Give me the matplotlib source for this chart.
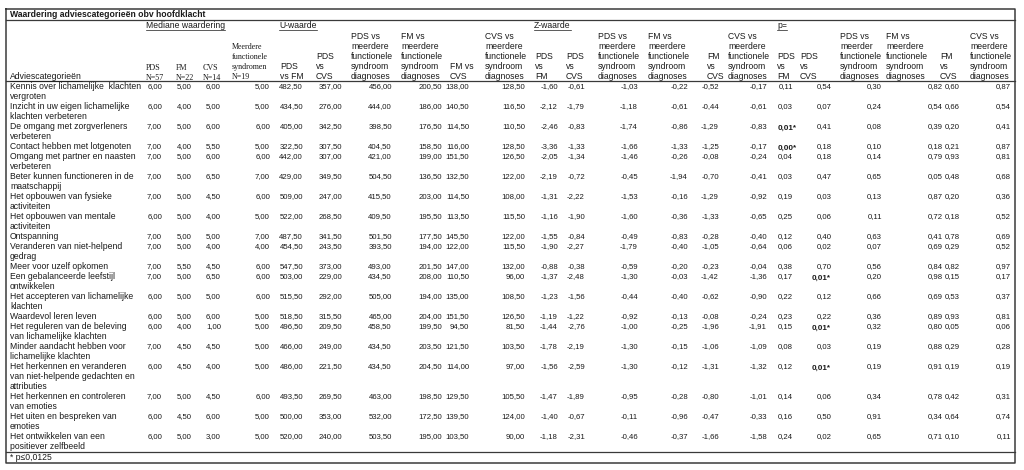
import matplotlib
matplotlib.use('Agg')
import matplotlib.pyplot as plt

# ---------------------------------------------
# DATA
# ---------------------------------------------
labels = [
    'Kennis over lichamelijke  klachten\nvergroten',
    'Inzicht in uw eigen lichamelijke\nklachten verbeteren',
    'De omgang met zorgverleners\nverbeteren',
    'Contact hebben met lotgenoten',
    'Omgang met partner en naasten\nverbeteren',
    'Beter kunnen functioneren in de\nmaatschappij',
    'Het opbouwen van fysieke\nactiviteiten',
    'Het opbouwen van mentale\nactiviteiten',
    'Ontspanning',
    'Veranderen van niet-helpend\ngedrag',
    'Meer voor uzelf opkomen',
    'Een gebalanceerde leefstijl\nontwikkelen',
    'Het accepteren van lichamelijke\nklachten',
    'Waardevol leren leven',
    'Het reguleren van de beleving\nvan lichamelijke klachten',
    'Minder aandacht hebben voor\nlichamelijke klachten',
    'Het herkennen en veranderen\nvan niet-helpende gedachten en\nattributies',
    'Het herkennen en controleren\nvan emoties',
    'Het uiten en bespreken van\nemoties',
    'Het ontwikkelen van een\npositiever zelfbeeld',
]

# mediane waardering
med_pds = [6, 6, 7, 7, 7, 7, 7, 6, 7, 7, 7, 7, 6, 6, 6, 7, 6, 7, 6, 6]
med_fm = [5, 4, 5, 4, 5, 5, 5, 5, 5, 5, 5.5, 5, 5, 5, 4, 4.5, 4.5, 5, 4.5, 5]
med_cvs = [6, 5, 6, 5.5, 6, 6.5, 4.5, 4, 5, 4, 4.5, 6.5, 5, 6, 1, 4.5, 4, 4.5, 6, 3]
med_mfs = [5, 5, 6, 5, 6, 7, 6, 5, 7, 4, 6, 6, 6, 5, 5, 5, 5, 6, 5, 5]

# U-waarde
u_pds_fm = [482.5, 434.5, 405, 322.5, 442, 429, 509, 522, 487.5, 454.5,
            547.5, 503, 515.5, 518.5, 496.5, 466, 486, 493.5, 500, 520]
u_pds_cvs = [357, 276, 342.5, 307.5, 307, 349.5, 247, 268.5, 341.5, 243.5,
             373, 229, 292, 315.5, 209.5, 249, 221.5, 269.5, 353, 240]
u_pds_mfs = [456, 444, 398.5, 404.5, 421, 504.5, 415.5, 409.5, 501.5, 393.5,
             493, 434.5, 505, 465, 458.5, 434.5, 434.5, 463, 532, 503.5]
u_fm_mfs = [200.5, 186, 176.5, 158.5, 199, 136.5, 203, 195.5, 177.5, 194,
            201.5, 208, 194, 204, 199.5, 203.5, 204.5, 198.5, 172.5, 195]
u_fm_cvs = [138, 140.5, 114.5, 116, 151.5, 132.5, 114.5, 113.5, 145.5, 122,
            147, 110.5, 135, 151.5, 94.5, 121.5, 114, 129.5, 139.5, 103.5]
u_cvs_mfs = [128.5, 116.5, 110.5, 128.5, 126.5, 122, 108, 115.5, 122, 115.5,
             132, 96, 108.5, 126.5, 81.5, 103.5, 97, 105.5, 124, 90]

# Z-waarde
z_pds_fm = [-1.60, -2.12, -2.46, -3.36, -2.05, -2.19, -1.31, -1.16, -1.55, -1.90,
            -0.88, -1.37, -1.23, -1.19, -1.44, -1.78, -1.56, -1.47, -1.40, -1.18]
z_pds_cvs = [-0.61, -1.79, -0.83, -1.33, -1.34, -0.72, -2.22, -1.90, -0.84, -2.27,
             -0.38, -2.48, -1.56, -1.22, -2.76, -2.19, -2.59, -1.89, -0.67, -2.31]
z_pds_mfs = [-1.03, -1.18, -1.74, -1.66, -1.46, -0.45, -1.53, -1.60, -0.49, -1.79,
             -0.59, -1.30, -0.44, -0.92, -1.00, -1.30, -1.30, -0.95, -0.11, -0.46]
z_fm_mfs = [-0.22, -0.61, -0.86, -1.33, -0.26, -1.94, -0.16, -0.36, -0.83, -0.40,
            -0.20, -0.03, -0.40, -0.13, -0.25, -0.15, -0.12, -0.28, -0.96, -0.37]
z_fm_cvs = [-0.52, -0.44, -1.29, -1.25, -0.08, -0.70, -1.29, -1.33, -0.28, -1.05,
            -0.23, -1.42, -0.62, -0.08, -1.96, -1.06, -1.31, -0.80, -0.47, -1.66]
z_cvs_mfs = [-0.17, -0.61, -0.83, -0.17, -0.24, -0.41, -0.92, -0.65, -0.40, -0.64,
             -0.04, -1.36, -0.90, -0.24, -1.91, -1.09, -1.32, -1.01, -0.33, -1.58]

# p=
p_pds_fm = [0.11, 0.03, 0.01, 0.00, 0.04, 0.03, 0.19, 0.25, 0.12, 0.06,
            0.38, 0.17, 0.22, 0.23, 0.15, 0.08, 0.12, 0.14, 0.16, 0.24]
p_pds_cvs = [0.54, 0.07, 0.41, 0.18, 0.18, 0.47, 0.03, 0.06, 0.40, 0.02,
             0.70, 0.01, 0.12, 0.22, 0.01, 0.03, 0.01, 0.06, 0.50, 0.02]
p_pds_mfs = [0.30, 0.24, 0.08, 0.10, 0.14, 0.65, 0.13, 0.11, 0.63, 0.07,
             0.56, 0.20, 0.66, 0.36, 0.32, 0.19, 0.19, 0.34, 0.91, 0.65]
p_fm_mfs = [0.82, 0.54, 0.39, 0.18, 0.79, 0.05, 0.87, 0.72, 0.41, 0.69,
            0.84, 0.98, 0.69, 0.89, 0.80, 0.88, 0.91, 0.78, 0.34, 0.71]
p_fm_cvs = [0.60, 0.66, 0.20, 0.21, 0.93, 0.48, 0.20, 0.18, 0.78, 0.29,
            0.82, 0.15, 0.53, 0.93, 0.05, 0.29, 0.19, 0.42, 0.64, 0.10]
p_cvs_mfs = [0.87, 0.54, 0.41, 0.87, 0.81, 0.68, 0.36, 0.52, 0.69, 0.52,
             0.97, 0.17, 0.37, 0.81, 0.06, 0.28, 0.19, 0.31, 0.74, 0.11]

alpha = 0.0125

# ---------------------------------------------
# LAYOUT (pixel coordinates)
# ---------------------------------------------
W, H = 1024, 470
SANS = ['Liberation Sans', 'DejaVu Sans']
SERIF = ['Liberation Serif', 'DejaVu Serif']
FS_T = 6.2    # words
FS_N = 5.6    # numbers
TXT = '#1a1a1a'
LINE = '#3a3a3a'
LH = 10  # line height

fig = plt.figure(figsize=(W / 100, H / 100), dpi=100)
ax = fig.add_axes([0, 0, 1, 1])
ax.set_xlim(0, W)
ax.set_ylim(H, 0)
ax.axis('off')

# columns: (values, header, header_x, right edge, font)
columns = [
    (med_pds, 'PDS\nN=57', 146, 162, 'serif'),
    (med_fm, 'FM\nN=22', 176, 192, 'serif'),
    (med_cvs, 'CVS\nN=14', 203, 221, 'serif'),
    (med_mfs, 'Meerdere\nfunctionele\nsyndromen\nN=19', 232, 270, 'serif_small'),
    (u_pds_fm, 'PDS\nvs FM', 280, 303, 'sans'),
    (u_pds_cvs, 'PDS\nvs\nCVS', 316, 342, 'sans'),
    (u_pds_mfs, 'PDS vs\nmeerdere\nfunctionele\nsyndroom\ndiagnoses', 351, 392, 'sans'),
    (u_fm_mfs, 'FM vs\nmeerdere\nfunctionele\nsyndroom\ndiagnoses', 401, 442, 'sans'),
    (u_fm_cvs, 'FM vs\nCVS', 450, 469, 'sans'),
    (u_cvs_mfs, 'CVS vs\nmeerdere\nfunctionele\nsyndroom\ndiagnoses', 485, 525, 'sans'),
    (z_pds_fm, 'PDS\nvs\nFM', 535, 558, 'sans'),
    (z_pds_cvs, 'PDS\nvs\nCVS', 566, 585, 'sans'),
    (z_pds_mfs, 'PDS vs\nmeerdere\nfunctionele\nsyndroom\ndiagnoses', 598, 638, 'sans'),
    (z_fm_mfs, 'FM vs\nmeerdere\nfunctionele\nsyndroom\ndiagnoses', 648, 688, 'sans'),
    (z_fm_cvs, 'FM\nvs\nCVS', 707, 719, 'sans'),
    (z_cvs_mfs, 'CVS vs\nmeerdere\nfunctionele\nsyndroom\ndiagnoses', 728, 767, 'sans'),
    (p_pds_fm, 'PDS\nvs\nFM', 777, 793, 'sans'),
    (p_pds_cvs, 'PDS\nvs\nCVS', 800, 832, 'sans'),
    (p_pds_mfs, 'PDS vs\nmeerder\nfunctionele\nsyndroom\ndiagnoses', 840, 882, 'sans'),
    (p_fm_mfs, 'FM vs\nmeerdere\nfunctionele\nsyndroom\ndiagnoses', 886, 943, 'sans'),
    (p_fm_cvs, 'FM\nvs\nCVS', 940, 960, 'sans'),
    (p_cvs_mfs, 'CVS vs\nmeerdere\nfunctionele\nsyndroom\ndiagnoses', 970, 1011, 'sans'),
]

groups = [('Mediane waardering', 146), ('U-waarde', 279), ('Z-waarde', 534), ('p=', 777)]

X0, X1 = 6, 1015
Y_TOP, Y_TITLE, Y_HEAD, Y_FOOT, Y_BOT = 9, 20, 81, 452, 463


def fmt(v):
    return f'{v:.2f}'.replace('.', ',')


# frame and rules
ax.plot([X0, X1, X1, X0, X0], [Y_TOP, Y_TOP, Y_BOT, Y_BOT, Y_TOP], color=LINE, lw=1.1)
for y in (Y_TITLE, Y_HEAD, Y_FOOT):
    ax.plot([X0, X1], [y, y], color=LINE, lw=0.9)

# title
ax.text(10, 14.5, 'Waardering adviescategorieën obv hoofdklacht', fontsize=FS_T,
        fontweight='bold', family=SANS, color=TXT, va='center', ha='left')

# group headers (underlined)
underline = []
for name, gx in groups:
    t = ax.text(gx, 25, name, fontsize=FS_T, family=SANS, color=TXT, va='center', ha='left')
    underline.append(t)
t = ax.text(10, 76.5, 'Adviescategorieën', fontsize=FS_T, family=SANS, color=TXT,
            va='center', ha='left')
underline.append(t)

# column headers, bottom aligned
for vals, head, hx, rx, kind in columns:
    lines = head.split('\n')
    n = len(lines)
    for i, ln in enumerate(lines):
        y = 76.5 - (n - 1 - i) * LH
        if kind == 'sans':
            ax.text(hx, y, ln, fontsize=FS_T, family=SANS, color=TXT, va='center', ha='left')
        elif kind == 'serif':
            ax.text(hx, y + 1, ln, fontsize=5.8, family=SERIF, color=TXT,
                    va='center', ha='left')
        else:
            ax.text(hx, y + 0.5, ln, fontsize=5.8, family=SERIF, color=TXT,
                    va='center', ha='left')

# rows
row_top = Y_HEAD
for r, lab in enumerate(labels):
    lab_lines = lab.split('\n')
    for k, ln in enumerate(lab_lines):
        ax.text(10, row_top + 5.5 + k * LH, ln, fontsize=FS_T, family=SANS, color=TXT,
                va='center', ha='left')
    yv = row_top + 5.5
    for c, (vals, head, hx, rx, kind) in enumerate(columns):
        v = vals[r]
        if c >= 16 and v <= alpha:
            ax.text(rx + (4 if c == 16 else -1), yv + 1.5, fmt(v) + '*', fontsize=FS_N + 0.2,
                    fontweight='bold', family=SANS, color=TXT, va='center', ha='right')
        else:
            ax.text(rx, yv, fmt(v), fontsize=FS_N, family=SANS, color=TXT,
                    va='center', ha='right')
    row_top += LH * len(lab_lines)

# footnote
ax.text(10, 457.5, '* p≤0,0125', fontsize=FS_T, family=SANS, color=TXT, va='center', ha='left')

# underline the group headers
fig.canvas.draw()
rend = fig.canvas.get_renderer()
inv = ax.transData.inverted()
for t in underline:
    bb = t.get_window_extent(rend)
    (xa, ya), (xb, yb) = inv.transform([[bb.x0, bb.y0], [bb.x1, bb.y1]])
    ax.plot([xa, xb], [ya + 0.3, ya + 0.3], color=TXT, lw=0.5)

fig.savefig('out.png', dpi=100, facecolor='white')
